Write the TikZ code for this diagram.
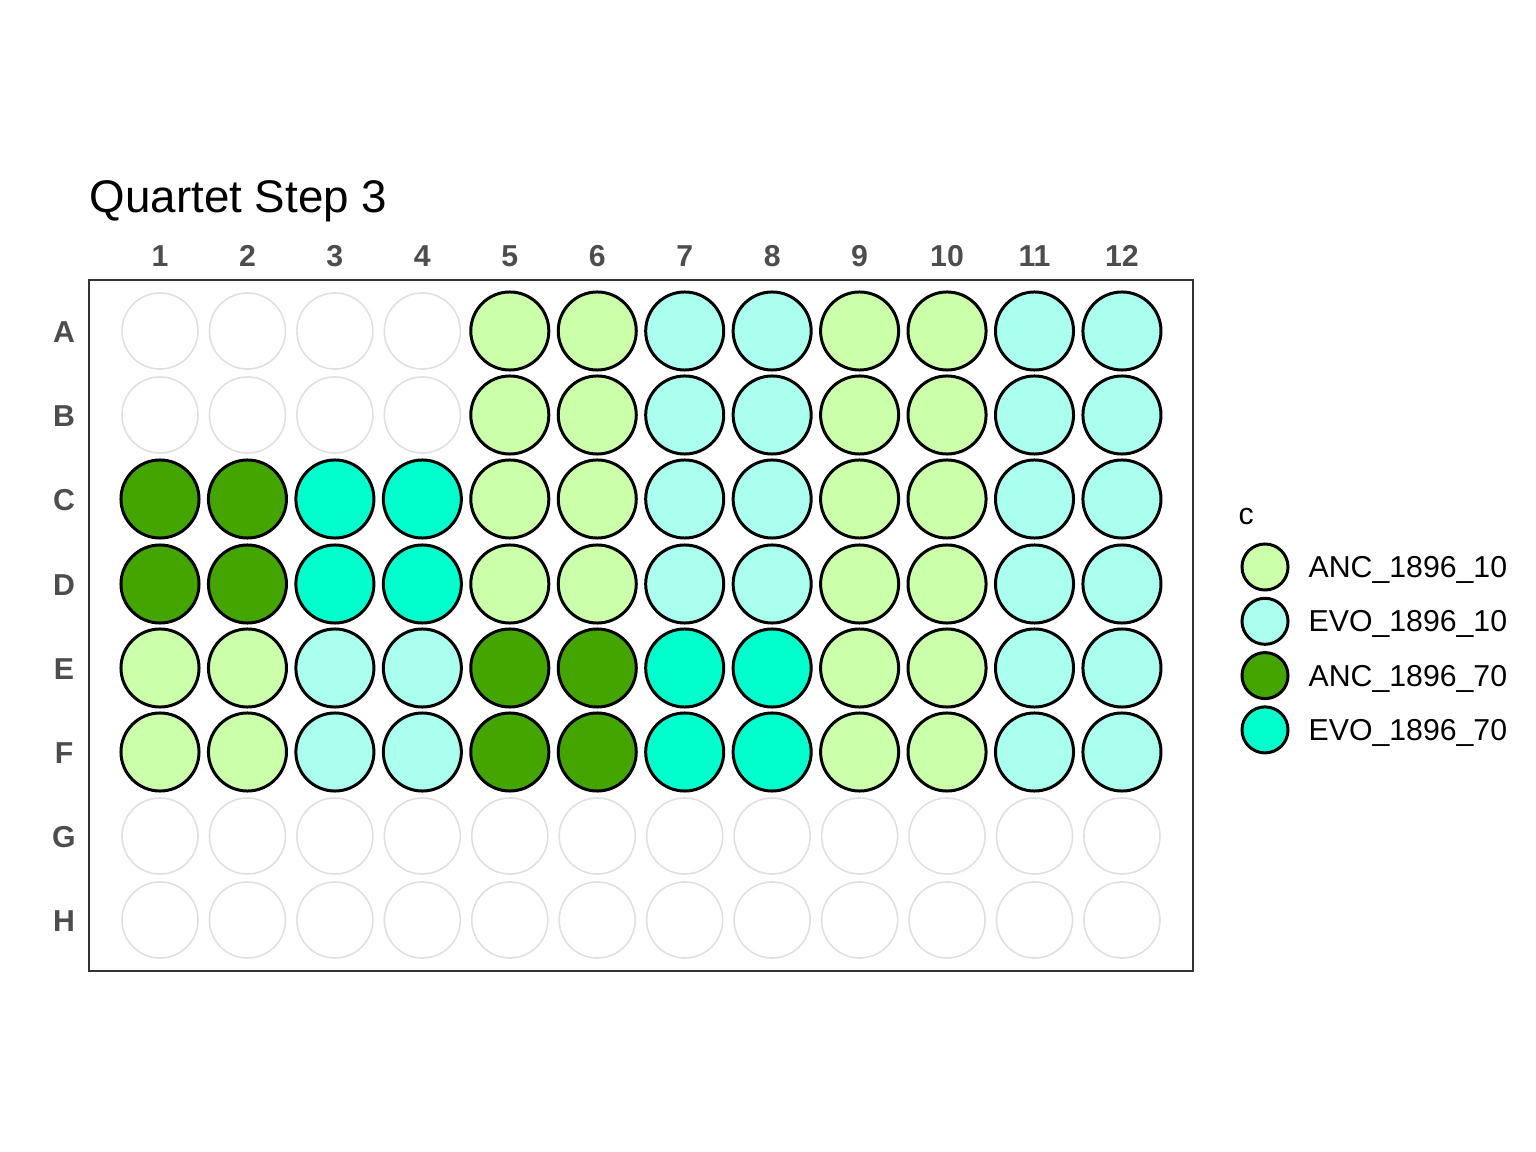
\documentclass[tikz,border=0pt]{standalone}
\usepackage{fontspec}
\setmainfont{Liberation Sans}
\usepackage{tikz}

\definecolor{anclo}{HTML}{CCFFAA}
\definecolor{evolo}{HTML}{AAFFEE}
\definecolor{anchi}{HTML}{44A500}
\definecolor{evohi}{HTML}{00FFCC}
\definecolor{axisgray}{HTML}{4D4D4D}
\definecolor{framegray}{HTML}{333333}
\definecolor{blankgray}{HTML}{E0E0E0}

\tikzset{
	well/.style={circle, inner sep=0pt, minimum size=0.78cm, line width=0.85pt, draw=black},
	welln/.style={circle, inner sep=0pt, minimum size=0.76cm, line width=0.45pt, draw=blankgray},
	wella/.style={well, fill=anclo},
	welle/.style={well, fill=evolo},
	wellA/.style={well, fill=anchi},
	wellE/.style={well, fill=evohi},
	axislabel/.style={font=\fontsize{8.6}{10}\selectfont\bfseries, text=axisgray},
	keylabel/.style={font=\fontsize{8.6}{10}\selectfont, anchor=west, inner sep=0pt},
	keydot/.style={circle, inner sep=0pt, minimum size=0.46cm, line width=0.85pt, draw=black}
}

\begin{document}
\begin{tikzpicture}[x=0.01cm, y=-0.01cm]
		\useasboundingbox (0,0) rectangle (1536,1152);
		
		% Titel
		\node[anchor=base west, inner sep=0pt, font=\fontsize{13}{15}\selectfont] (title) at (89,213) {Quartet Step 3};
		
		% Platte
		\draw[framegray, line width=0.45pt] (89,280) rectangle (1193,971);
		
		% Spalten
		\foreach \c in {1,...,12}
		\node[axislabel] (col\c) at ({160+(\c-1)*87.45},256) {\c};
		
		% Zeilen und Wells
		\foreach \rl/\y/\p in {A/331/{n,n,a,e,a,e}, B/415/{n,n,a,e,a,e}, C/499/{A,E,a,e,a,e}, D/584/{A,E,a,e,a,e}, E/668/{a,e,A,E,a,e}, F/752/{a,e,A,E,a,e}, G/836/{n,n,n,n,n,n}, H/920/{n,n,n,n,n,n}}{
			\node[axislabel] (row\rl) at (64,\y+1) {\rl};
			\foreach \k [count=\j] in \p {
				\pgfmathtruncatemacro{\ca}{2*\j-1}
				\pgfmathtruncatemacro{\cb}{2*\j}
				\node[well\k] (\rl\ca) at ({160+(\ca-1)*87.45},\y) {};
				\node[well\k] (\rl\cb) at ({160+(\cb-1)*87.45},\y) {};
			}
		}
		
		% Legende
		\node[keylabel] (keytitle) at (1238,517) {c};
		\foreach \n/\s/\t [count=\i] in {anclo/a/ANC\_1896\_10, evolo/e/EVO\_1896\_10, anchi/A/ANC\_1896\_70, evohi/E/EVO\_1896\_70}{
			\node[keydot, fill=\n] (key\s) at (1265,{567+(\i-1)*54.3}) {};
			\node[keylabel] (keytext\s) at (1308,{570+(\i-1)*54.3}) {\t};
		}
	\end{tikzpicture}
\end{document}
